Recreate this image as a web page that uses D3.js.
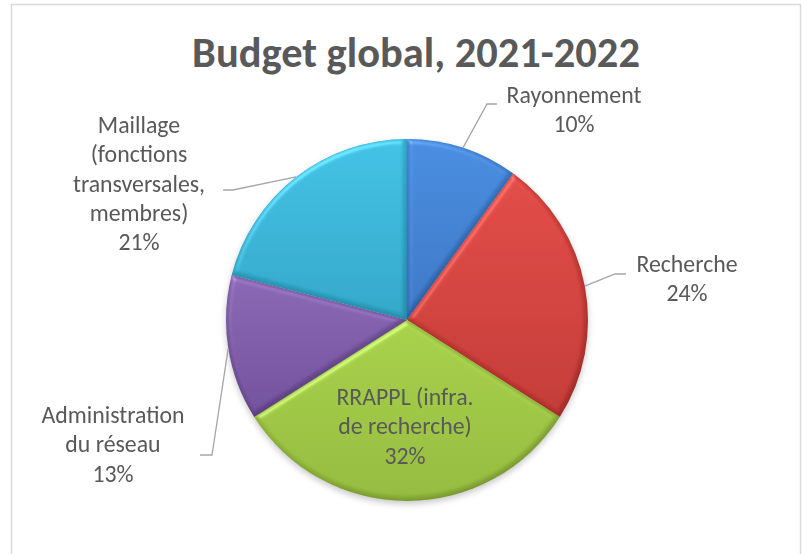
<!DOCTYPE html>
<html lang="fr">
<head>
<meta charset="UTF-8">
<title>Budget global, 2021-2022</title>
<script src="https://cdn.jsdelivr.net/npm/d3@7"></script>
<style>
  body { margin: 0; background: #fff; }
  text { font-family: Carlito, Calibri, "Open Sans", sans-serif; fill: #595959; }
</style>
</head>
<body>
<script>
// data
var categories = ["Rayonnement", "Recherche", "RRAPPL (infra. de recherche)", "Administration du réseau", "Maillage (fonctions transversales, membres)"];
var values = [10, 24, 32, 13, 21];
var labelLines = [
  ["Rayonnement"],
  ["Recherche"],
  ["RRAPPL (infra.", "de recherche)"],
  ["Administration", "du réseau"],
  ["Maillage", "(fonctions", "transversales,", "membres)"]
];
var title = "Budget global, 2021-2022";

// styles / layout
var width = 807, height = 554;
var cx = 407, cy = 320, radius = 181;
var topColors = ["#4285d8", "#da4540", "#a0c943", "#8260ad", "#3bbadd"];
var botColors = ["#3670bd", "#bb3430", "#8db338", "#6b4a94", "#2c9fc0"];
// label anchor (centre x, first baseline), leader elbow and end (null = inside)
var labelPos = [
  { x: 574, y: 103, elbow: [487, 104], end: [497, 104] },
  { x: 687, y: 272, elbow: [615, 274], end: [626, 274] },
  { x: 405, y: 405, elbow: null, end: null },
  { x: 113, y: 423, elbow: [212, 455], end: [200, 455] },
  { x: 139, y: 133, elbow: [233, 190], end: [223, 190] }
];
var lineH = 29.3;

var svg = d3.select("body").append("svg")
  .attr("width", width)
  .attr("height", height);

var defs = svg.append("defs");

values.forEach(function(v, i) {
  var g = defs.append("linearGradient")
    .attr("id", "grad" + i)
    .attr("x1", 0).attr("y1", 0).attr("x2", 0).attr("y2", 1);
  g.append("stop").attr("offset", "0%").attr("stop-color", topColors[i]);
  g.append("stop").attr("offset", "100%").attr("stop-color", botColors[i]);
});

// soft bevel: light on the upper-left edges, a bit darker on the lower-right
var bevel = defs.append("filter").attr("id", "bevel")
  .attr("color-interpolation-filters", "sRGB")
  .attr("x", "-10%").attr("y", "-10%").attr("width", "120%").attr("height", "120%");
bevel.append("feGaussianBlur").attr("in", "SourceAlpha").attr("stdDeviation", 2.5).attr("result", "blur");
var spec = bevel.append("feSpecularLighting")
  .attr("in", "blur").attr("surfaceScale", 2.5).attr("specularConstant", 0.3)
  .attr("specularExponent", 22).attr("lighting-color", "#ffffff").attr("result", "spec");
spec.append("feDistantLight").attr("azimuth", 240).attr("elevation", 45);
bevel.append("feComposite").attr("in", "spec").attr("in2", "SourceAlpha").attr("operator", "in").attr("result", "specIn");
bevel.append("feOffset").attr("in", "blur").attr("dx", -2).attr("dy", -2).attr("result", "off");
bevel.append("feComposite").attr("in", "SourceAlpha").attr("in2", "off").attr("operator", "out").attr("result", "rim");
bevel.append("feFlood").attr("flood-color", "#000").attr("flood-opacity", 0.18).attr("result", "dark");
bevel.append("feComposite").attr("in", "dark").attr("in2", "rim").attr("operator", "in").attr("result", "darkRim");
bevel.append("feComposite").attr("in", "SourceGraphic").attr("in2", "specIn")
  .attr("operator", "arithmetic").attr("k1", 0).attr("k2", 1).attr("k3", 0.7).attr("k4", 0)
  .attr("result", "lit");
var merge = bevel.append("feMerge");
merge.append("feMergeNode").attr("in", "lit");
merge.append("feMergeNode").attr("in", "darkRim");

var shadow = defs.append("filter").attr("id", "shadow")
  .attr("color-interpolation-filters", "sRGB")
  .attr("x", "-10%").attr("y", "-10%").attr("width", "120%").attr("height", "125%");
shadow.append("feDropShadow").attr("dx", 0).attr("dy", 3).attr("stdDeviation", 3)
  .attr("flood-color", "#000").attr("flood-opacity", 0.22);

// chart border
svg.append("rect")
  .attr("x", 11.5).attr("y", 4.5)
  .attr("width", 789).attr("height", 570)
  .attr("fill", "#fff")
  .attr("stroke", "#d9d9d9")
  .attr("stroke-width", 1.5);

// title, sized to the reference width
var titleText = svg.append("text")
  .attr("x", 416).attr("y", 67)
  .attr("text-anchor", "middle")
  .attr("font-weight", "bold")
  .attr("font-size", 40)
  .text(title);
var tw = titleText.node().getComputedTextLength();
titleText.attr("font-size", 40 * 448 / tw);

var pie = d3.pie().sort(null).value(function(d) { return d; });
var arcs = pie(values);
var arc = d3.arc().innerRadius(0).outerRadius(radius);

var pieG = svg.append("g")
  .attr("transform", "translate(" + cx + "," + cy + ")")
  .attr("filter", "url(#shadow)");

pieG.selectAll("path")
  .data(arcs)
  .enter()
    .append("path")
    .attr("d", arc)
    .attr("fill", function(d, i) { return "url(#grad" + i + ")"; })
    .attr("filter", "url(#bevel)");

// leader lines
arcs.forEach(function(d, i) {
  var p = labelPos[i];
  if (!p.elbow) return;
  var a = (d.startAngle + d.endAngle) / 2;
  var sx = cx + radius * Math.sin(a), sy = cy - radius * Math.cos(a);
  svg.append("polyline")
    .attr("points", [[sx, sy], p.elbow, p.end].map(function(q) { return q.join(","); }).join(" "))
    .attr("fill", "none")
    .attr("stroke", "#a6a6a6")
    .attr("stroke-width", 1.3);
});

// labels, font size fitted so "Rayonnement" is ~135px wide
var probe = svg.append("text").attr("font-size", 20).text("Rayonnement");
var labelSize = 20 * 135 / probe.node().getComputedTextLength();
probe.remove();

var labels = svg.selectAll("text.lbl")
  .data(arcs)
  .enter()
    .append("text")
    .attr("class", "lbl")
    .attr("text-anchor", "middle")
    .attr("font-size", labelSize);

labels.each(function(d, i) {
  var t = d3.select(this);
  var lines = labelLines[i].concat([Math.round(d.value) + "%"]);
  lines.forEach(function(s, k) {
    t.append("tspan")
      .attr("x", labelPos[i].x)
      .attr("y", labelPos[i].y + k * lineH)
      .text(s);
  });
});
</script>
</body>
</html>
